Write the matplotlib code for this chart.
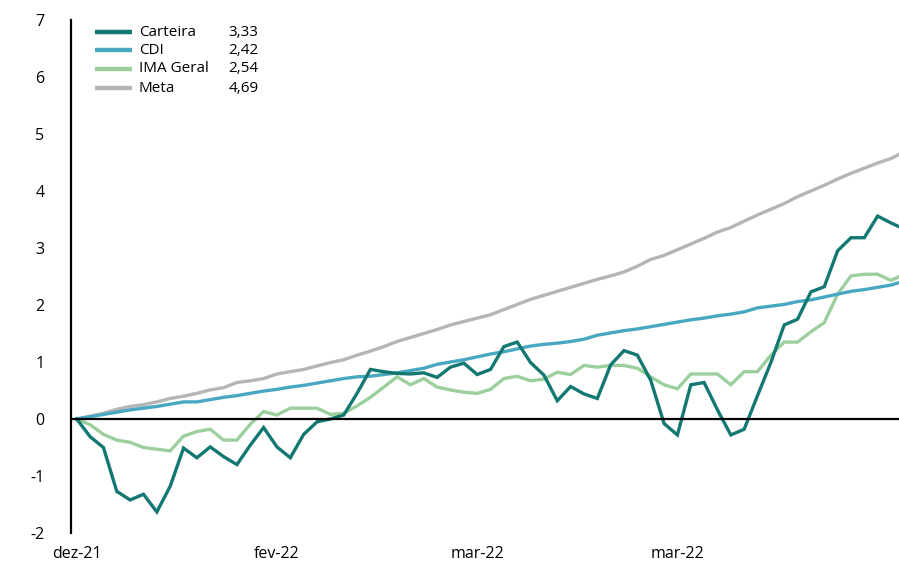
"""Retorno acumulado: Carteira x CDI x IMA Geral x Meta."""

import matplotlib
matplotlib.use("Agg")
import matplotlib.pyplot as plt
import matplotlib as mpl

mpl.rcParams.update({
    "font.family": ["Open Sans", "DejaVu Sans"],
    "font.size": 11,
    "axes.unicode_minus": False,
    "axes.spines.top": False,
    "axes.spines.right": False,
    "axes.spines.bottom": False,
})

x_labels = ["dez-21", "fev-22", "mar-22", "mar-22"]
x_label_pos = [0, 15, 30, 45]

carteira = [
    0.00, -0.31, -0.50, -1.27, -1.42, -1.32, -1.63, -1.18, -0.51, -0.68,
    -0.49, -0.66, -0.80, -0.46, -0.15, -0.49, -0.68, -0.27, -0.05, 0.00,
    0.07, 0.45, 0.87, 0.83, 0.80, 0.79, 0.81, 0.73, 0.91, 0.98,
    0.78, 0.87, 1.27, 1.35, 0.99, 0.77, 0.32, 0.57, 0.44, 0.36,
    0.95, 1.20, 1.12, 0.68, -0.08, -0.28, 0.60, 0.64, 0.16, -0.28,
    -0.18, 0.41, 0.99, 1.65, 1.75, 2.23, 2.32, 2.95, 3.18, 3.18,
    3.56, 3.44, 3.33,
]
cdi = [
    0.00, 0.04, 0.08, 0.12, 0.16, 0.19, 0.22, 0.26, 0.30, 0.30,
    0.34, 0.38, 0.41, 0.45, 0.49, 0.52, 0.56, 0.59, 0.63, 0.67,
    0.71, 0.74, 0.75, 0.78, 0.81, 0.85, 0.89, 0.96, 1.00, 1.04,
    1.09, 1.14, 1.18, 1.23, 1.28, 1.31, 1.33, 1.36, 1.40, 1.47,
    1.51, 1.55, 1.58, 1.62, 1.66, 1.70, 1.74, 1.77, 1.81, 1.84,
    1.88, 1.95, 1.98, 2.01, 2.06, 2.09, 2.14, 2.19, 2.24, 2.27,
    2.31, 2.35, 2.42,
]
ima_geral = [
    0.00, -0.10, -0.27, -0.37, -0.41, -0.50, -0.53, -0.56, -0.30, -0.22,
    -0.18, -0.37, -0.37, -0.09, 0.13, 0.07, 0.19, 0.19, 0.19, 0.08,
    0.10, 0.23, 0.38, 0.56, 0.74, 0.60, 0.71, 0.56, 0.51, 0.47,
    0.45, 0.52, 0.71, 0.75, 0.67, 0.70, 0.82, 0.78, 0.94, 0.91,
    0.94, 0.94, 0.89, 0.74, 0.60, 0.53, 0.79, 0.79, 0.79, 0.60,
    0.83, 0.83, 1.12, 1.35, 1.35, 1.53, 1.69, 2.19, 2.51, 2.54,
    2.54, 2.43, 2.54,
]
meta = [
    0.00, 0.05, 0.10, 0.17, 0.22, 0.25, 0.30, 0.36, 0.40, 0.45,
    0.51, 0.55, 0.64, 0.67, 0.71, 0.79, 0.83, 0.87, 0.93, 0.99,
    1.04, 1.12, 1.19, 1.27, 1.36, 1.43, 1.50, 1.57, 1.65, 1.71,
    1.77, 1.83, 1.92, 2.01, 2.10, 2.17, 2.24, 2.31, 2.38, 2.45,
    2.51, 2.58, 2.68, 2.80, 2.87, 2.97, 3.07, 3.17, 3.28, 3.36,
    3.47, 3.58, 3.68, 3.78, 3.90, 4.00, 4.10, 4.21, 4.31, 4.40,
    4.49, 4.57, 4.69,
]

series = [
    ("Carteira", carteira, "#137871"),
    ("CDI", cdi, "#49a8c1"),
    ("IMA Geral", ima_geral, "#9bcf9e"),
    ("Meta", meta, "#b5b5b8"),
]

fig = plt.figure(figsize=(8.99, 5.65), dpi=100)
ax = fig.add_axes([71 / 899, 1 - 533 / 565, 828 / 899, 513 / 565])

# desenha de trás para frente: Carteira por cima
for name, vals, color in reversed(series):
    ax.plot(range(len(vals)), vals, color=color, linewidth=2.4,
            solid_joinstyle="miter")

ax.axhline(0, color="black", linewidth=1.6, zorder=5)

ax.set_xlim(-0.43, 61.6)
ax.set_ylim(-2, 7)
ax.set_yticks(range(-2, 8))
ax.set_xticks(x_label_pos)
ax.set_xticklabels(x_labels)
ax.tick_params(axis="y", length=0, pad=19, labelsize=11.5)
ax.tick_params(axis="x", length=0, pad=9, labelsize=11.5)
ax.spines["left"].set_linewidth(1.6)
ax.spines["left"].set_color("black")

# legenda com valor final
row_y = [0.9766, 0.9415, 0.9045, 0.8674]
for (name, vals, color), yy in zip(series, row_y):
    ax.plot([0.029, 0.0737], [yy, yy], color=color, linewidth=3.2,
            transform=ax.transAxes, clip_on=False, solid_capstyle="butt")
    ax.text(0.082, yy, name, transform=ax.transAxes, va="center",
            ha="left", fontsize=11)
    ax.text(0.19, yy, f"{vals[-1]:.2f}".replace(".", ","),
            transform=ax.transAxes, va="center", ha="left", fontsize=11)

fig.savefig("out.png", dpi=100)
